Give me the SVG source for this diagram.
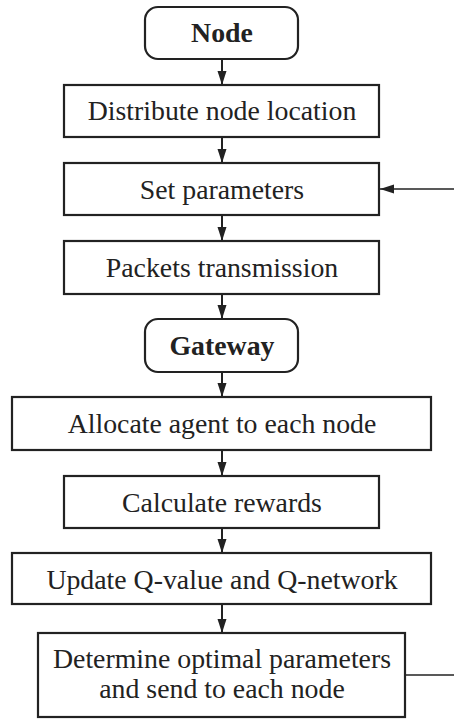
<svg xmlns="http://www.w3.org/2000/svg" width="454" height="720" viewBox="0 0 454 720">
<style>
.box{fill:#fff;stroke:#222;stroke-width:2.2}
.t{font-family:"Liberation Serif","Times New Roman",serif;font-size:27.8px;fill:#222;text-anchor:middle}
.b{font-weight:bold}
.c{stroke:#222;stroke-width:2;fill:none}
.f{stroke:#222;stroke-width:1.3;fill:none}
</style>
<defs>
<marker id="ah" markerWidth="14" markerHeight="10" refX="14" refY="5" orient="auto" markerUnits="userSpaceOnUse">
<path d="M0,0.5 L14,5 L0,9.5 Z" fill="#222"/>
</marker>
</defs>
<g id="connectors">
<line class="c" x1="222" y1="59" x2="222" y2="85" marker-end="url(#ah)"/>
<line class="c" x1="222" y1="137" x2="222" y2="163" marker-end="url(#ah)"/>
<line class="c" x1="222" y1="215" x2="222" y2="241" marker-end="url(#ah)"/>
<line class="c" x1="222" y1="294" x2="222" y2="319" marker-end="url(#ah)"/>
<line class="c" x1="222" y1="372" x2="222" y2="397" marker-end="url(#ah)"/>
<line class="c" x1="222" y1="450" x2="222" y2="476" marker-end="url(#ah)"/>
<line class="c" x1="222" y1="528" x2="222" y2="553" marker-end="url(#ah)"/>
<line class="c" x1="222" y1="604" x2="222" y2="633" marker-end="url(#ah)"/>
<line class="f" x1="454" y1="189" x2="380" y2="189" marker-end="url(#ah)"/>
<line class="f" x1="405" y1="675" x2="454" y2="675"/>
</g>
<g id="node-node">
<rect class="box" x="145" y="7" width="153" height="52" rx="13"/>
<text class="t b" x="222" y="42">Node</text>
</g>
<g id="node-distribute">
<rect class="box" x="64" y="85" width="315" height="52"/>
<text class="t" x="222" y="120">Distribute node location</text>
</g>
<g id="node-set">
<rect class="box" x="64" y="163" width="315" height="52"/>
<text class="t" x="222" y="199">Set parameters</text>
</g>
<g id="node-packets">
<rect class="box" x="64" y="241" width="315" height="53"/>
<text class="t" x="222" y="277">Packets transmission</text>
</g>
<g id="node-gateway">
<rect class="box" x="145" y="319" width="153" height="53" rx="13"/>
<text class="t b" x="222" y="355">Gateway</text>
</g>
<g id="node-allocate">
<rect class="box" x="12" y="397" width="419" height="53"/>
<text class="t" x="222" y="433">Allocate agent to each node</text>
</g>
<g id="node-calculate">
<rect class="box" x="64" y="476" width="315" height="52"/>
<text class="t" x="222" y="512">Calculate rewards</text>
</g>
<g id="node-update">
<rect class="box" x="12" y="553" width="419" height="51"/>
<text class="t" x="222" y="589">Update Q-value and Q-network</text>
</g>
<g id="node-determine">
<rect class="box" x="38" y="633" width="367" height="84"/>
<text class="t" x="222" y="668">Determine optimal parameters</text>
<text class="t" x="222" y="698">and send to each node</text>
</g>
</svg>
